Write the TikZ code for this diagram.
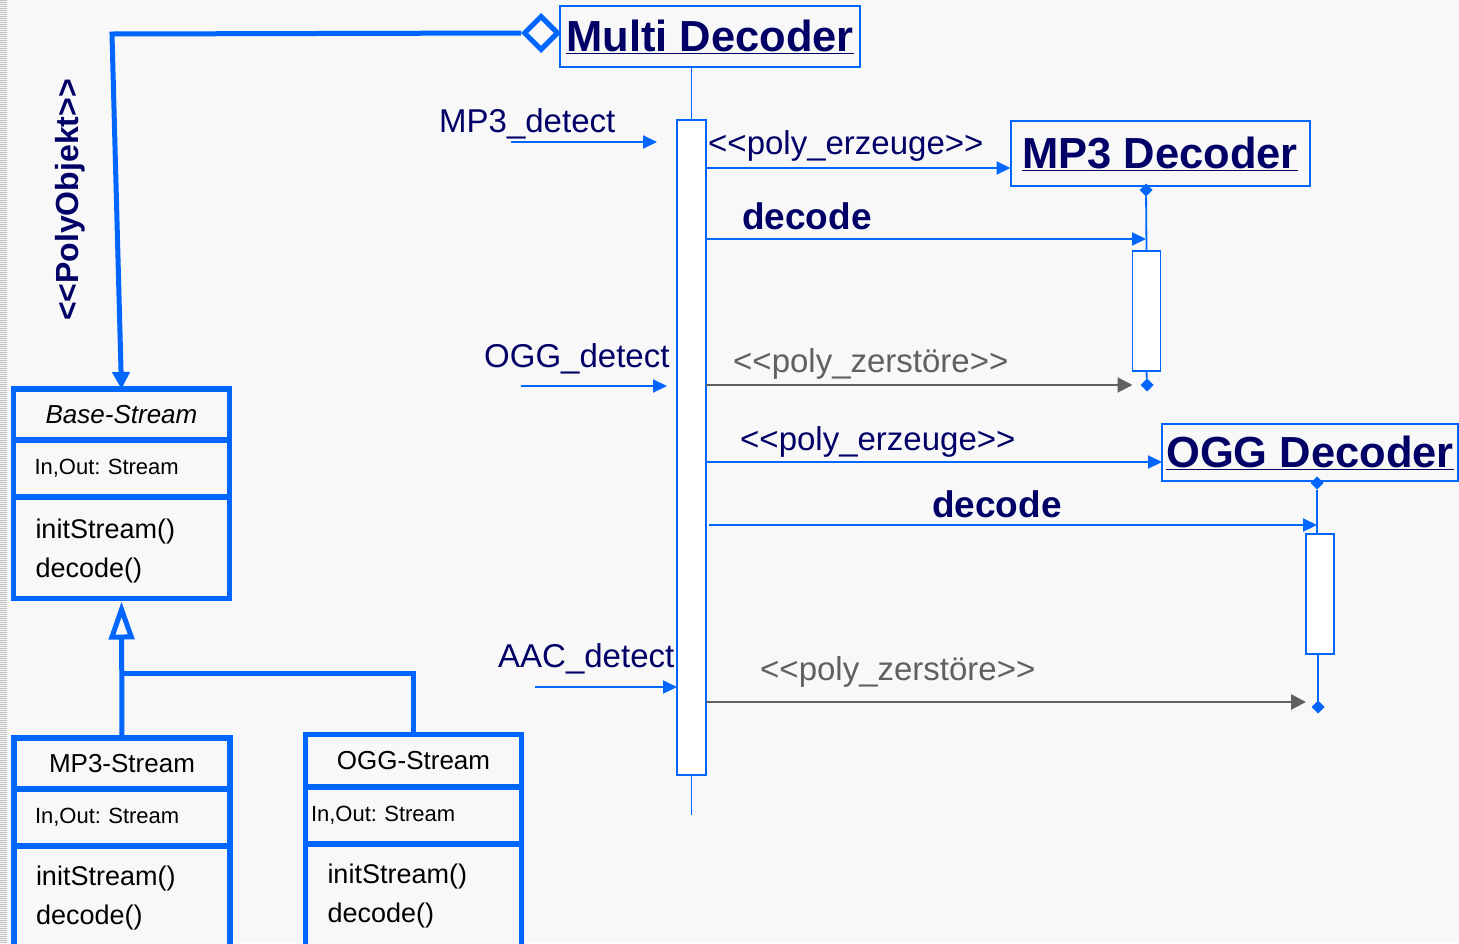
\documentclass[tikz,border=0pt]{standalone}
\usepackage{fontspec}
\setmainfont{Liberation Sans}[Ligatures=TeXOff]
\usetikzlibrary{arrows.meta,shapes.geometric,positioning}

\definecolor{umlblue}{RGB}{0,102,255}
\definecolor{umlnavy}{RGB}{0,0,102}
\definecolor{umlgray}{RGB}{96,96,96}
\definecolor{paper}{RGB}{248,248,248}
\newcommand{\fsz}[2]{\fontsize{#1}{#2}\selectfont}
\frenchspacing

\tikzset{
  classpart/.style={draw=umlblue, line width=5.5pt, fill=paper, outer sep=0pt, minimum width=216pt},
  classhead/.style={classpart, minimum height=51pt, text width=200pt, inner xsep=8pt, inner ysep=0pt, align=center, font=\fsz{26}{31}},
  classattr/.style={classpart, minimum height=57pt, text width=174pt, inner xsep=21pt, inner ysep=0pt, align=left, font=\fsz{22}{26}},
  classops/.style={classpart, text width=172pt, inner xsep=22pt, inner ysep=20pt, align=left, font=\fsz{27}{39}},
  genline/.style={draw=umlblue, line width=5pt},
  objbox/.style={draw=umlblue, line width=2pt, fill=paper, outer sep=0pt, text=umlnavy, font=\bfseries\fsz{43.5}{50}},
  actbox/.style={draw=umlblue, line width=1.5pt, fill=white, minimum width=28pt, inner sep=0pt, outer sep=0pt},
  endmark/.style={diamond, aspect=1, fill=umlblue, minimum size=13pt, inner sep=0pt, outer sep=0pt},
  lifeline/.style={draw=umlblue, line width=1.8pt},
  msg/.style={draw=umlblue, line width=2pt, -{Triangle[length=14pt,width=13pt]}},
  killmsg/.style={draw=umlgray, line width=2pt, -{Triangle[length=15pt,width=15pt]}},
  msglabel/.style={anchor=base west, inner sep=0pt, text=umlnavy, font=\fsz{33}{38}},
  calllabel/.style={anchor=base west, inner sep=0pt, text=umlnavy, font=\bfseries\fsz{37}{42}},
  killlabel/.style={anchor=base west, inner sep=0pt, text=umlgray, font=\fsz{33}{38}}
}

\begin{document}
\begin{tikzpicture}[x=1pt,y=-1pt]
  \fill[paper] (0,0) rectangle (1459,943);
  \useasboundingbox (0,0) rectangle (1459,943);
  \draw[black!25, line width=6.5pt, dash pattern=on 1pt off 1pt] (3.3,0) -- (3.3,943);

  % classes
  \node[classhead] (basehead) at (121.5,414.5) {\itshape Base-Stream};
  \node[classattr, below=0pt of basehead] (baseattr) {In,Out: Stream};
  \node[classops, minimum height=101.5pt, inner ysep=0pt, text depth=38pt, below=0pt of baseattr] (baseops) {initStream()\\decode()};

  \node[classhead] (mp3head) at (122,763.5) {MP3-Stream};
  \node[classattr, below=0pt of mp3head] (mp3attr) {In,Out: Stream};
  \node[classops, below=0pt of mp3attr] (mp3ops) {initStream()\\decode()};

  \node[classhead, minimum height=52.5pt] (ogghead) at (413.5,760.75) {OGG-Stream};
  \node[classattr, text width=205pt, inner xsep=5.5pt, below=0pt of ogghead] (oggattr) {In,Out: Stream};
  \node[classops, below=0pt of oggattr] (oggops) {initStream()\\decode()};

  % inheritance
  \draw[genline, -{Triangle[open, length=38pt, width=25pt]}] (mp3head.north) -- ([yshift=-3pt]baseops.south);
  \draw[genline] (ogghead.north) -- (ogghead.north |- 0,673) -- (mp3head.north |- 0,673);

  % sequence
  \node[objbox, minimum width=300pt, minimum height=61pt] (mdhead) at (710,36.5) {\underline{Multi Decoder}};
  \node[diamond, aspect=1, draw=umlblue, line width=5pt, fill=paper, minimum size=35pt, inner sep=0pt] (agg) at (541,33) {};
  \coordinate (aggbend) at (112,34);
  \draw[genline, -{Triangle[length=17pt, width=17pt]}] (agg.west) -- (aggbend) -- (basehead.north);
  \node[rotate=90, text=umlnavy, font=\bfseries\fsz{32}{38}] (polylbl) at (70,200) {<<PolyObjekt>>};

  \node[actbox, minimum width=29pt, minimum height=655pt] (mdact) at (691.5,447.5) {};
  \coordinate (mdfoot) at (691.5,815);
  \draw[lifeline] (mdact.north) -- (mdact.north |- mdhead.south);
  \draw[lifeline] (mdact.south) -- (mdfoot);

  \node[objbox, minimum width=299pt, minimum height=65pt] (mp3obj) at (1160,153.5) {\underline{MP3 Decoder}};
  \node[actbox, minimum height=120pt] (mp3act) at (1146.5,311) {};
  \node[endmark] (mp3top) at (1146,190) {};
  \node[endmark] (mp3end) at (1147,385) {};
  \draw[lifeline] (mp3top) -- (mp3act.north);
  \draw[lifeline] (mp3act.south) -- (mp3end);

  \node[objbox, minimum width=296pt, minimum height=57pt] (oggobj) at (1310,452.5) {\underline{OGG Decoder}};
  \node[actbox, minimum height=120pt] (oggact) at (1320,594) {};
  \node[endmark] (oggtop) at (1317,483) {};
  \node[endmark] (oggend) at (1318,707) {};
  \draw[lifeline] (oggtop) -- (oggtop |- oggact.north);
  \draw[lifeline] (oggend |- oggact.south) -- (oggend);

  % incoming detections
  \coordinate (mp3in) at (511,142);
  \coordinate (mp3inend) at (657,142);
  \coordinate (oggin) at (521,386);
  \coordinate (ogginend) at (667,386);
  \coordinate (aacin) at (535,687);
  \draw[msg] (mp3in) -- (mp3inend);
  \draw[msg] (oggin) -- (ogginend);
  \draw[msg] (aacin) -- (mdact.west |- aacin);
  \node[msglabel] (lmp3) at (439,132) {MP3\_detect};
  \node[msglabel] (logg) at (484,367) {OGG\_detect};
  \node[msglabel] (laac) at (498,667) {AAC\_detect};

  % messages
  \draw[msg] (mdact.east |- 0,168) -- (mp3obj.west |- 0,168);
  \draw[msg] (mdact.east |- 0,239) -- (mp3top |- 0,239);
  \draw[killmsg] (mdact.east |- 0,385) -- (mp3act.west |- 0,385);
  \draw[msg] (mdact.east |- 0,462) -- (oggobj.west |- 0,462);
  \draw[msg] ([xshift=3pt]mdact.east |- 0,525) -- (oggtop |- 0,525);
  \draw[killmsg, line width=2.7pt] (mdact.east |- 0,702) -- (oggact.west |- 0,702);

  \node[msglabel] (lnew1) at (708,154) {<<poly\_erzeuge>>};
  \node[calllabel] (lcall1) at (742,229) {decode};
  \node[killlabel] (lkill1) at (733,372) {<<poly\_zerstöre>>};
  \node[msglabel] (lnew2) at (740,450) {<<poly\_erzeuge>>};
  \node[calllabel] (lcall2) at (932,517) {decode};
  \node[killlabel] (lkill2) at (760,680) {<<poly\_zerstöre>>};
\end{tikzpicture}
\end{document}
